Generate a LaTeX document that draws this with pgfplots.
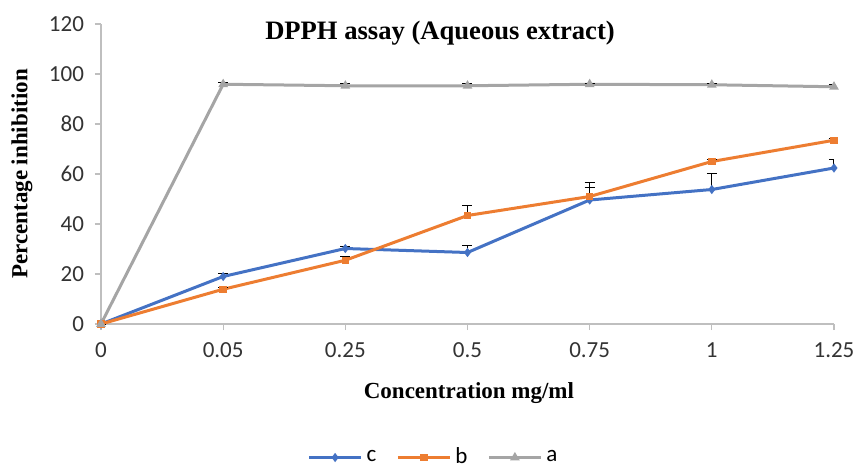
\documentclass[border=0pt]{standalone}
\usepackage{pgfplots}
\pgfplotsset{compat=1.18}
\usepackage{fontspec}
\setmainfont{Carlito}
\newfontfamily\tnr{Liberation Serif}
\definecolor{cc}{HTML}{4472C4}
\definecolor{cbb}{HTML}{ED7D31}
\definecolor{ca}{HTML}{A5A5A5}
\definecolor{axc}{HTML}{BFBFBF}
\begin{document}
\begin{tikzpicture}
\begin{axis}[
  name=ax, at={(0,0)}, anchor=south west,
  scale only axis, width=366.5pt, height=150pt,
  xmin=0, xmax=6, ymin=0, ymax=120,
  xtick={0,1,2,3,4,5,6},
  xticklabels={0,0.05,0.25,0.5,0.75,1,1.25},
  ytick={0,20,40,60,80,100,120},
  axis lines*=left,
  axis line style={axc, line width=0.6pt},
  tick align=outside,
  major tick length=3pt,
  tick style={axc, line width=0.6pt},
  ticklabel style={font=\fontsize{11.5}{13}\selectfont, text=black!80},
  /pgf/number format/assume math mode=true,
  xticklabel style={yshift=-3pt},
  yticklabel style={xshift=-2pt},
  xlabel={\tnr\bfseries Concentration mg/ml},
  ylabel={\tnr\bfseries Percentage inhibition},
  xlabel style={at={(axis description cs:0.502,-0.23)}, anchor=center, font=\fontsize{11.5}{13}\selectfont},
  ylabel style={at={(axis description cs:-0.108,0.5)}, anchor=center, rotate=0, font=\fontsize{11.5}{13}\selectfont},
  every axis title shift=0pt,
  title={\tnr\bfseries DPPH assay (Aqueous extract)},
  title style={at={(axis description cs:0.4625,0.97)}, anchor=center, yshift=0pt, font=\fontsize{13.3}{15}\selectfont},
  legend columns=3,
  legend style={at={(axis description cs:0.455,-0.445)}, anchor=center, draw=none, fill=none,
    font=\fontsize{11.5}{13}\selectfont, /tikz/every even column/.append style={column sep=8pt}},
  legend image code/.code={\draw[mark repeat=2,mark phase=2,#1] plot coordinates {(0pt,0pt)(13pt,0pt)(26pt,0pt)};},
  error bars/y dir=plus, error bars/y explicit,
  error bars/error mark=|,
  error bars/error bar style={black, line width=0.5pt, solid},
  error bars/error mark options={black, line width=0.5pt, mark size=2.5pt},
]
\addplot[cc, line width=1.5pt, mark=diamond*, mark size=1.1pt, mark options={solid}] coordinates {
 (0,0) +- (0,0)
 (1,19.0) +- (0,1.4)
 (2,30.2) +- (0,0.8)
 (3,28.6) +- (0,3.0)
 (4,49.6) +- (0,5.0)
 (5,53.8) +- (0,6.3)
 (6,62.4) +- (0,3.6)
};
\addlegendentry{c}
\addplot[cbb, line width=1.5pt, mark=square*, mark size=1.1pt, mark options={solid}] coordinates {
 (0,0) +- (0,0)
 (1,13.9) +- (0,0.8)
 (2,25.5) +- (0,1.5)
 (3,43.4) +- (0,4.2)
 (4,51.0) +- (0,5.8)
 (5,65.0) +- (0,0.8)
 (6,73.5) +- (0,0.8)
};
\addlegendentry{b}
\addplot[ca, line width=1.5pt, mark=triangle*, mark size=1.3pt, mark options={solid}] coordinates {
 (0,0) +- (0,0)
 (1,95.9) +- (0,0.6)
 (2,95.3) +- (0,0.8)
 (3,95.3) +- (0,1.0)
 (4,95.9) +- (0,0.5)
 (5,95.7) +- (0,0.4)
 (6,94.9) +- (0,0.8)
};
\addlegendentry{a}
\end{axis}
\pgfresetboundingbox
\path (-50.5pt,-72pt) rectangle (378.5pt,162pt);
\end{tikzpicture}
\end{document}
